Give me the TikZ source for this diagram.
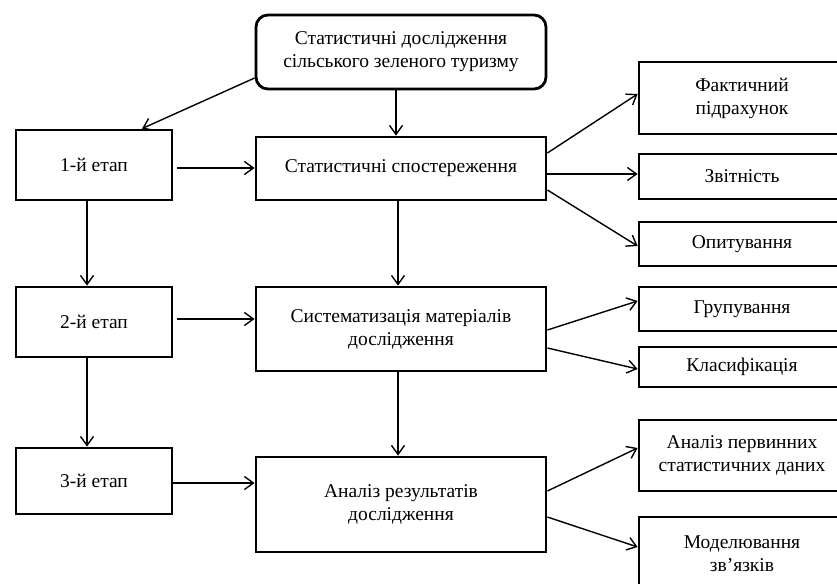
\documentclass[tikz,border=0pt]{standalone}
\usepackage{fontspec}
\setmainfont{Liberation Serif}
\usetikzlibrary{arrows.meta}
\begin{document}
\begin{tikzpicture}[x=1pt,y=-1pt,
  box/.style={draw,line width=2.8pt,inner sep=0pt,align=center,font=\fontsize{19.5}{23}\selectfont},
  arr/.style={line width=1.4pt,-{Straight Barb[length=9pt,width=13pt,line width=1.4pt]}}]
\useasboundingbox (0,0) rectangle (837,583);
\node[box,rounded corners=12pt,minimum width=290pt,minimum height=74pt] (top) at (401,52) {Статистичні дослідження\\сільського зеленого туризму};
\node[box,minimum width=156pt,minimum height=70pt] (e1) at (94,165) {1-й етап};
\node[box,minimum width=290pt,minimum height=63pt] (obs) at (401,168.5) {Статистичні спостереження};
\node[box,minimum width=206pt,minimum height=72pt] (fact) at (742,98) {Фактичний\\підрахунок};
\node[box,minimum width=206pt,minimum height=45pt] (zvit) at (742,176.5) {Звітність};
\node[box,minimum width=206pt,minimum height=44pt] (opyt) at (742,244) {Опитування};
\node[box,minimum width=156pt,minimum height=70pt] (e2) at (94,322) {2-й етап};
\node[box,minimum width=290pt,minimum height=84pt] (sys) at (401,329) {Систематизація матеріалів\\дослідження};
\node[box,minimum width=206pt,minimum height=44pt] (grup) at (742,309) {Групування};
\node[box,minimum width=206pt,minimum height=40pt] (klas) at (742,367) {Класифікація};
\node[box,minimum width=156pt,minimum height=66pt] (e3) at (94,481) {3-й етап};
\node[box,minimum width=290pt,minimum height=95pt] (anal) at (401,504.5) {Аналіз результатів\\дослідження};
\node[box,minimum width=206pt,minimum height=71pt] (perv) at (742,455.5) {Аналіз первинних\\статистичних даних};
\node[box,minimum width=206pt,minimum height=73pt] (model) at (742,553.5) {Моделювання\\зв’язків};
% connectors
\draw[arr] ([yshift=-26pt]top.west) -- ([xshift=48pt]e1.north);
\draw[arr] ([xshift=-5pt]top.south) -- ([xshift=-5pt]obs.north);
\draw[arr] ([xshift=4pt,yshift=-3pt]e1.east) coordinate (a1) -- (a1 -| obs.west);
\draw[arr] ([xshift=-7pt]e1.south) -- ([xshift=-7pt]e2.north);
\draw[arr] ([xshift=-3pt]obs.south) -- ([xshift=-3pt]sys.north);
\draw[arr] ([xshift=4pt,yshift=3pt]e2.east) coordinate (a2) -- (a2 -| sys.west);
\draw[arr] ([xshift=-7pt]e2.south) -- ([xshift=-7pt]e3.north);
\draw[arr] ([xshift=-3pt]sys.south) -- ([xshift=-3pt]anal.north);
\draw[arr] ([yshift=-2pt]e3.east) coordinate (a3) -- (a3 -| anal.west);
\draw[arr] ([yshift=15.5pt]obs.east) -- ([yshift=4pt]fact.west);
\draw[arr] ([yshift=-5.5pt]obs.east) coordinate (b1) -- (b1 -| zvit.west);
\draw[arr] ([yshift=-21.5pt]obs.east) -- ([yshift=-2pt]opyt.west);
\draw[arr] ([yshift=-1pt]sys.east) -- ([yshift=8pt]grup.west);
\draw[arr] ([yshift=-19pt]sys.east) -- ([yshift=-2pt]klas.west);
\draw[arr] ([yshift=13.5pt]anal.east) -- ([yshift=7.5pt]perv.west);
\draw[arr] ([yshift=-12.5pt]anal.east) -- ([yshift=6.5pt]model.west);
\end{tikzpicture}
\end{document}
